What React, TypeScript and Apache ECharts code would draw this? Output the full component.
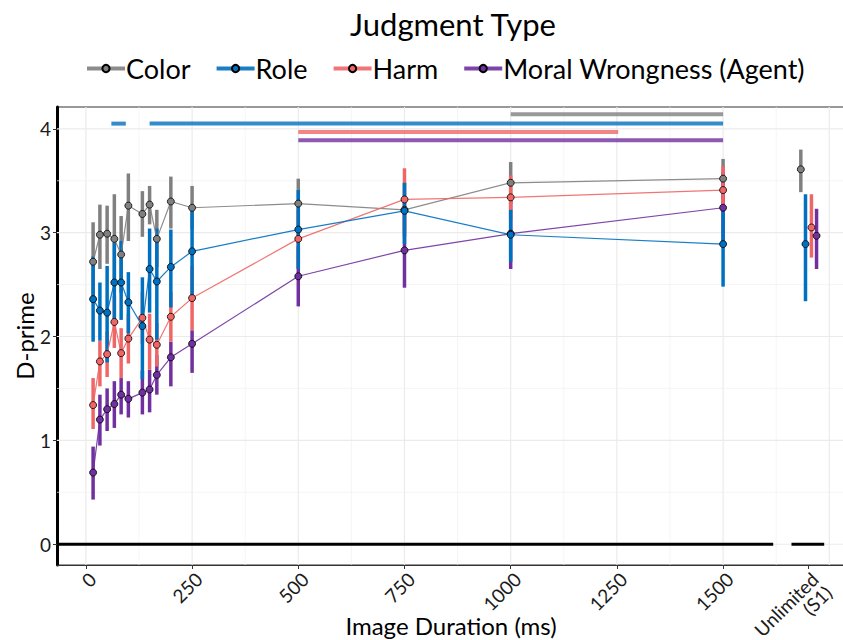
import React, { useEffect, useRef } from "react";
import * as echarts from "echarts";

// ---------- data ----------
const DURATIONS = [17, 33, 50, 67, 83, 100, 133, 150, 167, 200, 250, 500, 750, 1000, 1500];

const SERIES_NAMES = ["Color", "Role", "Harm", "Moral Wrongness (Agent)"];

const COLOR_MEAN = [2.72, 2.98, 2.99, 2.94, 2.79, 3.26, 3.18, 3.27, 2.94, 3.3, 3.24, 3.28, 3.22, 3.48, 3.52];
const COLOR_LOW = [2.33, 2.65, 2.7, 2.52, 2.42, 2.92, 2.96, 3.08, 2.67, 3.04, 3.03, 3.04, 2.96, 3.28, 3.33];
const COLOR_HIGH = [3.1, 3.27, 3.26, 3.37, 3.16, 3.57, 3.4, 3.45, 3.22, 3.54, 3.45, 3.52, 3.48, 3.68, 3.71];

const ROLE_MEAN = [2.36, 2.25, 2.23, 2.52, 2.52, 2.33, 2.1, 2.65, 2.53, 2.67, 2.82, 3.03, 3.21, 2.98, 2.89];
const ROLE_LOW = [1.95, 1.96, 1.75, 2.15, 2.16, 2.03, 1.59, 2.23, 1.97, 2.28, 2.36, 2.65, 2.89, 2.72, 2.48];
const ROLE_HIGH = [2.77, 2.52, 2.68, 2.9, 2.92, 2.62, 2.57, 3.04, 3.04, 3.03, 3.22, 3.41, 3.48, 3.22, 3.22];

const HARM_MEAN = [1.34, 1.76, 1.83, 2.14, 1.84, 1.98, 2.18, 1.97, 1.92, 2.19, 2.37, 2.94, 3.32, 3.34, 3.41];
const HARM_LOW = [1.11, 1.52, 1.61, 1.89, 1.6, 1.74, 1.93, 1.68, 1.71, 1.95, 2.06, 2.66, 3.02, 3.13, 3.18];
const HARM_HIGH = [1.6, 1.96, 2.05, 2.39, 2.08, 2.22, 2.43, 2.22, 2.13, 2.43, 2.68, 3.22, 3.62, 3.55, 3.64];

const MORAL_MEAN = [0.69, 1.2, 1.3, 1.35, 1.44, 1.4, 1.46, 1.49, 1.63, 1.8, 1.93, 2.58, 2.83, 2.99, 3.24];
const MORAL_LOW = [0.43, 0.95, 1.09, 1.12, 1.25, 1.22, 1.25, 1.27, 1.44, 1.52, 1.65, 2.29, 2.47, 2.65, 2.9];
const MORAL_HIGH = [0.94, 1.44, 1.5, 1.57, 1.6, 1.57, 1.67, 1.68, 1.82, 1.95, 2.06, 2.87, 3.19, 3.32, 3.58];

// Unlimited (S1) condition, dodged positions, in SERIES_NAMES order
const UNLIMITED_POS = [1683, 1694, 1708, 1720];
const UNLIMITED_MEAN = [3.61, 2.89, 3.05, 2.97];
const UNLIMITED_LOW = [3.39, 2.34, 2.76, 2.65];
const UNLIMITED_HIGH = [3.8, 3.37, 3.37, 3.23];

// significance bars (start, end) and their level, in SERIES_NAMES order
const SIG_COLOR = [[1000, 1500]];
const SIG_ROLE = [[60, 94], [150, 1500]];
const SIG_HARM = [[500, 1253]];
const SIG_MORAL = [[500, 1500]];
const SIG_LEVEL = [4.14, 4.05, 3.97, 3.89];

// broken zero line segments
const ZERO_SEGMENTS = [[-68, 1618], [1661, 1738]];

// ticks & grid
const X_TICKS = [0, 250, 500, 750, 1000, 1250, 1500];
const UNLIMITED_TICK = 1700;
const UNLIMITED_LABEL = "Unlimited\n(S1)";
const X_GRID_MAJOR = [0, 250, 500, 750, 1000, 1250, 1500, 1750];
const X_GRID_MINOR = [125, 375, 625, 875, 1125, 1375, 1625];
const Y_TICKS = [0, 1, 2, 3, 4];
const Y_GRID_MINOR = [0.5, 1.5, 2.5, 3.5];

// ---------- styling ----------
const X_MIN = -68;
const X_MAX = 1787;
const Y_MIN = -0.2;
const Y_MAX = 4.21;
const COLORS = ["#808080", "#0070C0", "#EF6666", "#7030A0"];
const SIG_COLORS = ["rgba(128,128,128,0.8)", "rgba(0,112,192,0.8)", "rgba(239,102,102,0.8)", "rgba(112,48,160,0.8)"];
const FONT = "Lato, 'Open Sans', sans-serif";

const MEANS = [COLOR_MEAN, ROLE_MEAN, HARM_MEAN, MORAL_MEAN];
const LOWS = [COLOR_LOW, ROLE_LOW, HARM_LOW, MORAL_LOW];
const HIGHS = [COLOR_HIGH, ROLE_HIGH, HARM_HIGH, MORAL_HIGH];
const SIGS = [SIG_COLOR, SIG_ROLE, SIG_HARM, SIG_MORAL];
// drawing order: Color, Moral, Harm, Role (Role on top)
const DRAW_ORDER = [0, 3, 2, 1];

function segRender(color: string, width: number, vertical: boolean) {
  return (params: any, api: any) => {
    let p1: number[];
    let p2: number[];
    if (vertical) {
      p1 = api.coord([api.value(0), api.value(1)]);
      p2 = api.coord([api.value(0), api.value(2)]);
    } else {
      p1 = api.coord([api.value(0), api.value(2)]);
      p2 = api.coord([api.value(1), api.value(2)]);
    }
    return {
      type: "line",
      shape: { x1: p1[0], y1: p1[1], x2: p2[0], y2: p2[1] },
      style: { stroke: color, lineWidth: width, lineCap: "butt" },
    };
  };
}

function gridRender(color: string, width: number, isX: boolean) {
  return (params: any, api: any) => {
    const v = api.value(0);
    const p1 = isX ? api.coord([v, Y_MIN]) : api.coord([X_MIN, v]);
    const p2 = isX ? api.coord([v, Y_MAX]) : api.coord([X_MAX, v]);
    return {
      type: "line",
      shape: { x1: p1[0], y1: p1[1], x2: p2[0], y2: p2[1] },
      style: { stroke: color, lineWidth: width },
    };
  };
}

function buildOption() {
  const series: any[] = [];

  // grid lines
  series.push({
    type: "custom", silent: true, z: 1, clip: true,
    renderItem: gridRender("#ebebeb", 1.2, true),
    data: X_GRID_MAJOR.map((v) => [v]),
    encode: { x: 0 },
  });
  series.push({
    type: "custom", silent: true, z: 1, clip: true,
    renderItem: gridRender("#f0f0f0", 0.7, true),
    data: X_GRID_MINOR.map((v) => [v]),
    encode: { x: 0 },
  });
  series.push({
    type: "custom", silent: true, z: 1, clip: true,
    renderItem: gridRender("#ebebeb", 1.2, false),
    data: Y_TICKS.map((v) => [v]),
    encode: { y: 0 },
  });
  series.push({
    type: "custom", silent: true, z: 1, clip: true,
    renderItem: gridRender("#f0f0f0", 0.7, false),
    data: Y_GRID_MINOR.map((v) => [v]),
    encode: { y: 0 },
  });

  // zero line
  series.push({
    type: "custom", silent: true, z: 2, clip: true,
    renderItem: segRender("#000000", 3, false),
    data: ZERO_SEGMENTS.map((s) => [s[0], s[1], 0]),
    encode: { x: [0, 1], y: 2 },
  });

  // significance bars
  SIGS.forEach((sig, i) => {
    series.push({
      type: "custom", silent: true, z: 3, clip: true,
      renderItem: segRender(SIG_COLORS[i], 4, false),
      data: sig.map((s) => [s[0], s[1], SIG_LEVEL[i]]),
      encode: { x: [0, 1], y: 2 },
    });
  });

  // error bars
  DRAW_ORDER.forEach((i) => {
    const data = DURATIONS.map((d, k) => [d, LOWS[i][k], HIGHS[i][k]]);
    data.push([UNLIMITED_POS[i], UNLIMITED_LOW[i], UNLIMITED_HIGH[i]]);
    series.push({
      type: "custom", silent: true, z: 4, clip: true,
      renderItem: segRender(COLORS[i], 3.5, true),
      data,
      encode: { x: 0, y: [1, 2] },
    });
  });

  // lines with points
  DRAW_ORDER.forEach((i) => {
    series.push({
      type: "line",
      name: SERIES_NAMES[i],
      z: 5,
      data: DURATIONS.map((d, k) => [d, MEANS[i][k]]),
      symbol: "circle",
      symbolSize: 7,
      showSymbol: true,
      lineStyle: { color: COLORS[i], width: 1.2, opacity: 0.9 },
      itemStyle: { color: COLORS[i], borderColor: "#000", borderWidth: 0.8 },
      emphasis: { disabled: true },
    });
  });

  // unlimited points
  DRAW_ORDER.forEach((i) => {
    series.push({
      type: "scatter",
      z: 6,
      data: [[UNLIMITED_POS[i], UNLIMITED_MEAN[i]]],
      symbol: "circle",
      symbolSize: 7,
      itemStyle: { color: COLORS[i], borderColor: "#000", borderWidth: 0.8, opacity: 1 },
      emphasis: { disabled: true },
    });
  });

  const xTickValues = [...X_TICKS, UNLIMITED_TICK];

  return {
    animation: false,
    backgroundColor: "#ffffff",
    textStyle: { fontFamily: FONT },
    title: {
      text: "Judgment Type",
      left: 448,
      textAlign: "center",
      top: 3,
      textStyle: { fontSize: 31, fontWeight: "normal", color: "#000", fontFamily: FONT },
    },
    legend: {
      data: SERIES_NAMES,
      top: 50,
      left: 80,
      itemWidth: 38,
      itemHeight: 9,
      itemGap: 24,
      textStyle: { fontSize: 27, color: "#000", fontFamily: FONT, padding: [0, 0, 0, -4] },
      lineStyle: { width: 4 },
      selectedMode: false,
    },
    grid: {
      left: 57,
      right: -2,
      top: 107,
      bottom: 75,
      containLabel: false,
      outerBoundsMode: "none",
      show: true,
      borderColor: "#333",
      borderWidth: 1,
      backgroundColor: "transparent",
    },
    xAxis: {
      type: "value",
      min: X_MIN,
      max: X_MAX,
      name: "Image Duration (ms)",
      nameLocation: "middle",
      nameGap: 48,
      nameMoveOverlap: false,
      nameTextStyle: { fontSize: 24, color: "#000", fontFamily: FONT },
      axisLine: { show: true, onZero: false, lineStyle: { color: "#333", width: 1 } },
      axisTick: { show: true, length: 4, customValues: xTickValues, lineStyle: { color: "#333" } },
      axisLabel: {
        customValues: xTickValues,
        rotate: 45,
        margin: 4,
        fontSize: 19,
        lineHeight: 19,
        verticalAlign: "top",
        color: "#1a1a1a",
        fontFamily: FONT,
        formatter: (v: number) => (v === UNLIMITED_TICK ? UNLIMITED_LABEL : String(v)),
      },
      splitLine: { show: false },
    },
    yAxis: {
      type: "value",
      min: Y_MIN,
      max: Y_MAX,
      name: "D-prime",
      nameLocation: "middle",
      nameGap: 21,
      nameMoveOverlap: false,
      nameRotate: 90,
      nameTextStyle: { fontSize: 24, color: "#000", fontFamily: FONT },
      axisLine: { show: true, onZero: false, lineStyle: { color: "#000", width: 3 } },
      axisTick: { show: true, length: 4, customValues: Y_TICKS, lineStyle: { color: "#333" } },
      axisLabel: {
        customValues: Y_TICKS,
        margin: 6,
        fontSize: 19,
        color: "#1a1a1a",
        fontFamily: FONT,
      },
      splitLine: { show: false },
    },
    series,
  };
}

export default function App() {
  const ref = useRef<HTMLDivElement>(null);
  useEffect(() => {
    if (!ref.current) return;
    const chart = echarts.init(ref.current, null, { renderer: "svg" });
    chart.setOption(buildOption() as any);
    return () => chart.dispose();
  }, []);
  return (
    <div
      ref={ref}
      style={{ position: "absolute", left: 0, top: 0, width: 843, height: 640, background: "#fff" }}
    />
  );
}
